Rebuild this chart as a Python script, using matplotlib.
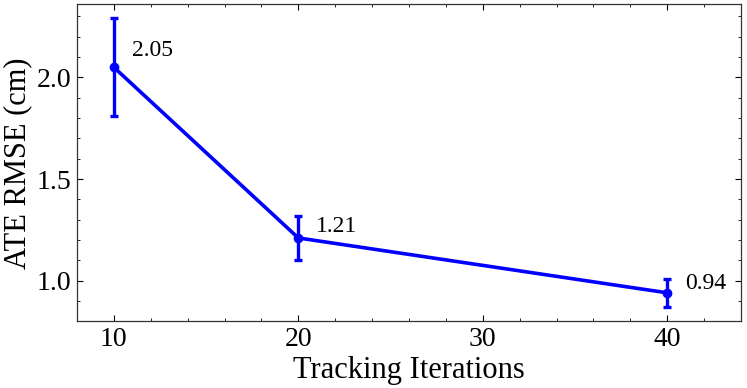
import matplotlib
matplotlib.use("Agg")
import matplotlib.pyplot as plt
from matplotlib.ticker import MultipleLocator

iterations = [10, 20, 40]
ate_rmse = [2.05, 1.21, 0.94]
ate_err = [0.24, 0.11, 0.07]
labels = ["2.05", "1.21", "0.94"]

plt.rcParams['font.family'] = ['Liberation Serif', 'DejaVu Serif']
plt.rcParams['mathtext.fontset'] = 'stix'

fig = plt.figure(figsize=(7.47, 3.88), dpi=100)
ax = fig.add_axes([0.103, 0.172, 0.889, 0.817])

ax.errorbar(iterations, ate_rmse, yerr=ate_err, color='#0000ff', lw=2.6,
            marker='o', markersize=6, capsize=3, capthick=2.4, elinewidth=2.4)

offsets = [(13, 12), (13, 8), (13, 7)]
for x, y, t, off in zip(iterations, ate_rmse, labels, offsets):
    ax.annotate(t, (x, y), xytext=off, textcoords='offset points',
                ha='left', va='center', fontsize=17)

ax.set_xlim(8, 44)
ax.set_ylim(0.80, 2.36)
ax.xaxis.set_major_locator(MultipleLocator(10))
ax.xaxis.set_minor_locator(MultipleLocator(2))
ax.yaxis.set_major_locator(MultipleLocator(0.5))
ax.yaxis.set_minor_locator(MultipleLocator(0.1))
ax.tick_params(which='both', direction='in', top=True, right=True, labelsize=20)
ax.tick_params(which='major', length=4, width=0.8, pad=4)
ax.tick_params(which='minor', length=2, width=0.6)
for s in ax.spines.values():
    s.set_linewidth(0.9)
    s.set_color('#333333')

ax.set_xlabel('Tracking Iterations', fontsize=22, labelpad=3)
ax.set_ylabel('ATE RMSE (cm)', fontsize=22, labelpad=3)

fig.savefig('out.png', dpi=100)
